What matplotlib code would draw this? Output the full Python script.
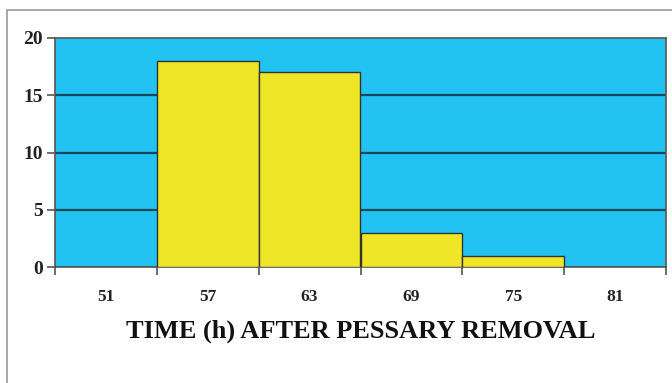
import matplotlib
matplotlib.use("Agg")
import matplotlib.pyplot as plt
from matplotlib.patches import Rectangle
import numpy as np

categories = ["51", "57", "63", "69", "75", "81"]
counts = [0, 18, 17, 3, 1, 0]
y_ticks = [0, 5, 10, 15, 20]
x_title = "TIME (h) AFTER PESSARY REMOVAL"

W, H = 672, 383
fig = plt.figure(figsize=(W / 100, H / 100), dpi=100)
fig.patch.set_facecolor("white")

# outer frame
fig.add_artist(Rectangle((7 / W, -0.1), 1.2, 1 - 10 / H + 0.1, transform=fig.transFigure,
                         fill=False, edgecolor="#9a9a9a", linewidth=1.2))

left, right, top, bottom = 55, 666, 38, 267
ax = fig.add_axes([left / W, 1 - bottom / H, (right - left) / W, (bottom - top) / H])
ax.set_facecolor("#22C3F2")

x = np.arange(len(categories))
ax.bar(x, counts, width=1.0, color="#F0E628", edgecolor="#333333", linewidth=1.0, zorder=3)

ax.set_xlim(-0.5, len(categories) - 0.5)
ax.set_ylim(0, 20)

for yv in y_ticks[1:-1]:
    ax.axhline(yv, color="#17485a", linewidth=1.6, zorder=1)

ax.set_yticks(y_ticks)
ax.set_yticklabels([str(v) for v in y_ticks], fontfamily="Liberation Serif",
                   fontweight="bold", fontsize=14, color="#222222")
ax.tick_params(axis="y", length=6, width=1.2, color="#555555", pad=3)

ax.set_xticks(np.arange(len(categories) + 1) - 0.5)
ax.set_xticklabels([])
ax.tick_params(axis="x", which="major", length=6, width=1.2, color="#555555")
ax.set_xticks(x, minor=True)
ax.set_xticklabels(categories, minor=True, fontfamily="Liberation Serif",
                   fontweight="bold", fontsize=12.5, color="#222222")
ax.tick_params(axis="x", which="minor", length=0, pad=16)

for side in ["left", "bottom", "top", "right"]:
    ax.spines[side].set_color("#555555")
    ax.spines[side].set_linewidth(1.2)

ax.set_xlabel(x_title, fontfamily="Liberation Serif", fontweight="bold",
              fontsize=19, color="#111111", labelpad=10)

fig.savefig("out.png", dpi=100)
